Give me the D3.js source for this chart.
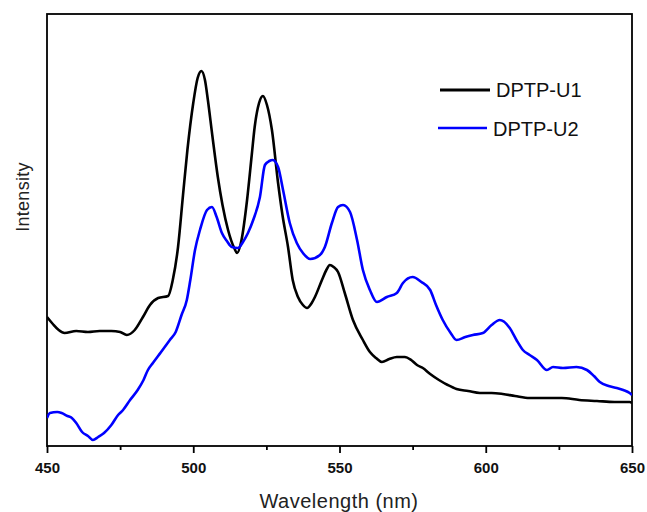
<!DOCTYPE html>
<html>
<head>
<meta charset="utf-8">
<script src="https://cdn.jsdelivr.net/npm/d3@7"></script>
<style>
  html, body { margin: 0; padding: 0; background: #fff; }
  svg { display: block; }
</style>
</head>
<body>
<svg id="chart" width="647" height="512"></svg>
<script>
const seriesNames = ["DPTP-U1", "DPTP-U2"];
const seriesColors = ["#000000", "#0000ff"];
const xTicks = [450, 500, 550, 600, 650];
const xMinorTicks = [475, 525, 575, 625];

const u1Wavelength = [450,452,454,456,460,464,468,472,475,477.3,480,482.8,485.2,488,491.4,493,494.8,496.5,498,500,501.5,502.8,504,505,506.5,508.4,510,511.9,514,515,516.5,518.4,520,521,522.5,523.8,525.2,526.9,529,530.5,532.4,534,535.8,537.5,538.9,540.5,541.6,544,545.5,546.7,548,549.5,551.8,554.6,558,560.4,562.5,564.5,567,569.6,572.3,574.5,576.5,578.5,581,584,587,590,594,598,602,605.8,610,615,620,626,632,638,644,649.2,650];
const u1Intensity = [129,122,116,113,115,114,115,115,114,111,116,129,141,148,150,166,199,251,296,343,368,375,366,346,311,269,241,216,198,193,206,246,291,319,343,350,341,316,263,231,199,166,149,141,138,143,149,166,176,181,179,174,153,126,106,94,88,84,87,89,89,86,81,78,72,66,61,57,55,53,53,52,50,48,48,48,46,45,44,44,43];

const u2Wavelength = [450,451,453.5,455,457,458.5,460,462,464,465.7,467.5,469.5,472,474.3,476,478.4,481,483,484.5,486.2,489,492,494,496,497.8,499,500.6,502.3,504.7,506.4,508,509.8,511.5,513.2,515.3,517,518.7,520.5,522.8,524.5,526,527.2,529,530.7,533,535.4,537.5,540,543.3,545,547.4,549.5,551.2,553.6,556,558,560.4,562.8,566.2,569.6,571.7,575,578,581,583,585.3,588,590,593,595.6,599,602,604.8,608.2,610.5,612.7,615,617.5,620.9,623,626.4,631,634.6,637,639,642,644.8,647,649.2,650];
const u2Intensity = [28,33,34,33,30,28,23,14,10,6,9,13,21,31,36,46,56,66,76,83,94,106,114,131,146,166,196,216,236,239,229,213,205,199,198,204,213,226,249,281,285,286,279,256,223,203,193,187,191,199,223,239,241,234,206,176,156,144,149,153,163,169,164,156,141,126,113,106,109,111,113,121,126,118,106,96,91,86,76,79,78,79,76,70,64,60,58,56,53,51];

(function () {
const svg = d3.select("#chart");
const pLeft = 47, pRight = 632, pTop = 14, pBottom = 446;

const x = d3.scaleLinear().domain([450, 650]).range([pLeft, pRight]);
const y = d3.scaleLinear().domain([0, 432]).range([pBottom, pTop]);

const font = "'Liberation Sans', Arial, sans-serif";

// frame
svg.append("rect")
  .attr("x", pLeft).attr("y", pTop)
  .attr("width", pRight - pLeft).attr("height", pBottom - pTop)
  .attr("fill", "none").attr("stroke", "#000").attr("stroke-width", 1.8);

// x axis major
const xAxis = d3.axisBottom(x).tickValues(xTicks).tickSize(7).tickPadding(9).tickFormat(d3.format("d"));
const gx = svg.append("g").attr("transform", `translate(0,${pBottom})`).call(xAxis);
gx.select(".domain").remove();
gx.selectAll(".tick line").attr("stroke", "#000").attr("stroke-width", 1.8);
gx.selectAll(".tick text")
  .attr("font-family", font).attr("font-size", 15).attr("font-weight", "bold").attr("fill", "#111");

// x axis minor
const xAxisMinor = d3.axisBottom(x).tickValues(xMinorTicks).tickSize(4).tickFormat("");
const gxm = svg.append("g").attr("transform", `translate(0,${pBottom})`).call(xAxisMinor);
gxm.select(".domain").remove();
gxm.selectAll(".tick line").attr("stroke", "#000").attr("stroke-width", 1.8);

// axis titles
svg.append("text")
  .attr("x", 339).attr("y", 508)
  .attr("text-anchor", "middle")
  .attr("font-family", font).attr("font-size", 20).attr("letter-spacing", 0.5).attr("fill", "#222")
  .text("Wavelength (nm)");

svg.append("text")
  .attr("transform", "translate(29,197) rotate(-90)")
  .attr("text-anchor", "middle")
  .attr("font-family", font).attr("font-size", 18).attr("letter-spacing", 0.3).attr("fill", "#222")
  .text("Intensity");

// lines
const line = d3.line().curve(d3.curveMonotoneX).x(d => x(d[0])).y(d => y(d[1]));
const series = [
  d3.zip(u1Wavelength, u1Intensity),
  d3.zip(u2Wavelength, u2Intensity)
];
svg.append("clipPath").attr("id", "clip")
  .append("rect").attr("x", pLeft).attr("y", pTop).attr("width", pRight - pLeft).attr("height", pBottom - pTop);

svg.append("g").attr("clip-path", "url(#clip)")
  .selectAll("path").data(series).join("path")
  .attr("d", line)
  .attr("fill", "none")
  .attr("stroke", (d, i) => seriesColors[i])
  .attr("stroke-width", 2.6)
  .attr("stroke-linejoin", "round");

// legend
const legendRows = [
  { x1: 440, x2: 490, ly: 90, tx: 496, ty: 97 },
  { x1: 438, x2: 487, ly: 128, tx: 493, ty: 136 }
];
const lg = svg.append("g");
seriesNames.forEach((name, i) => {
  const r = legendRows[i];
  lg.append("line")
    .attr("x1", r.x1).attr("x2", r.x2).attr("y1", r.ly).attr("y2", r.ly)
    .attr("stroke", seriesColors[i]).attr("stroke-width", i === 0 ? 3 : 2.4);
  lg.append("text")
    .attr("x", r.tx).attr("y", r.ty)
    .attr("font-family", font).attr("font-size", 20).attr("fill", "#111")
    .text(name);
});
})();
</script>
</body>
</html>
